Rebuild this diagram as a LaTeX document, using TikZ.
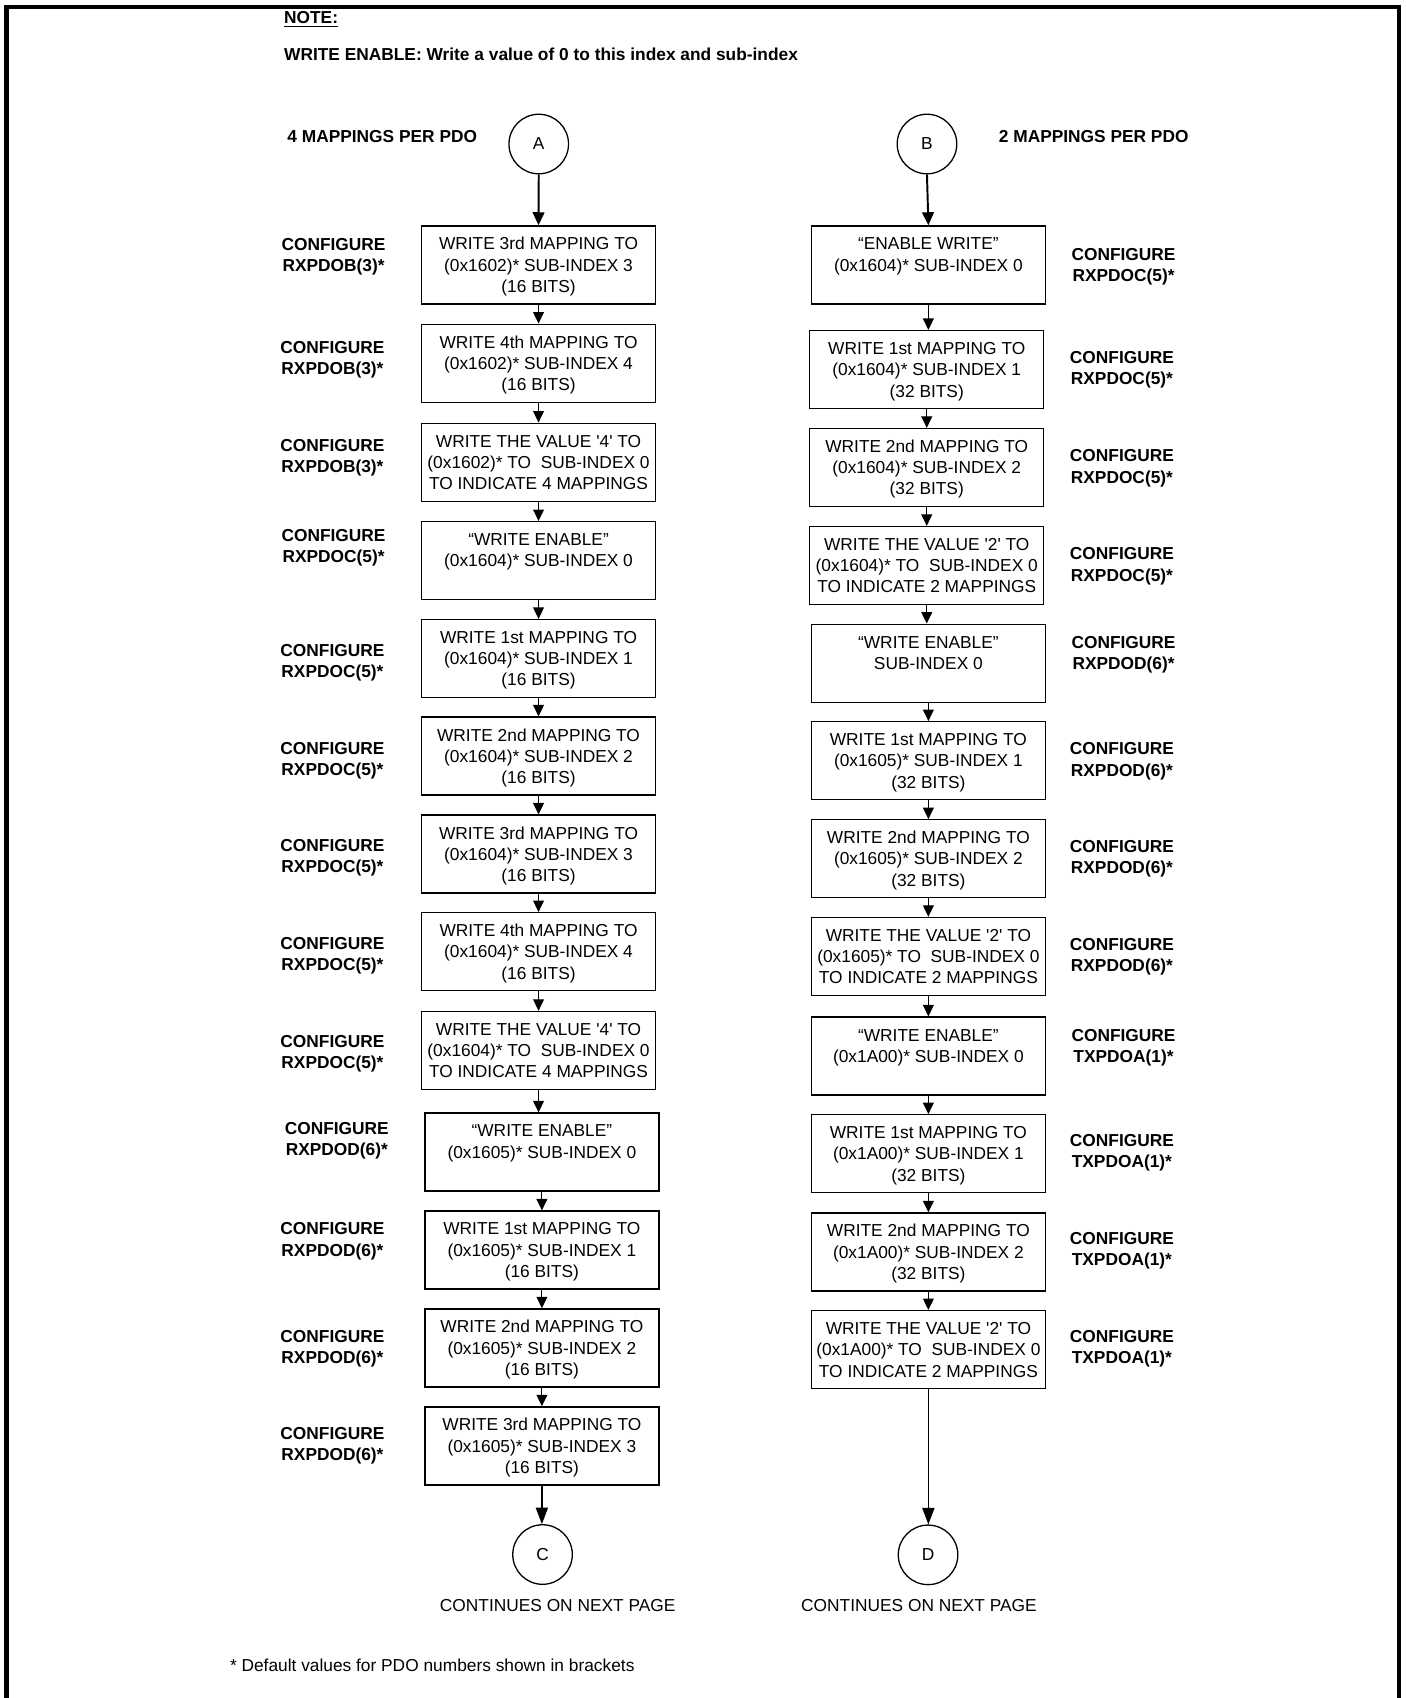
\documentclass[tikz,border=0pt]{standalone}
\usepackage{fontspec}
\setmainfont{Liberation Sans}
\usetikzlibrary{arrows.meta}
\newcommand\zs{\rule[-2.04pt]{0pt}{9.8pt}}
\newcommand\three[3]{\zs #1\\\zs #2\\\zs #3}
\newcommand\two[2]{\zs #1\\\zs #2}
\newcommand\qq{\textquotesingle}
\begin{document}
\begin{tikzpicture}[x=0.5pt,y=-0.5pt,
  box/.style={draw, line width=0.6pt, minimum width=108pt, minimum height=36pt, inner sep=0pt, align=center, font=\fontsize{8}{9.8}\selectfont},
  lab/.style={align=center, inner sep=0pt, font=\fontsize{8}{9.8}\selectfont\bfseries},
  conn/.style={draw, circle, line width=0.6pt, minimum size=27.5pt, inner sep=0pt, font=\fontsize{8}{9.8}\selectfont},
  arr/.style={line width=0.55pt, -{Triangle[length=5.3pt,width=5pt]}},
  arrbig/.style={line width=0.9pt, -{Triangle[length=6pt,width=5.4pt]}},
  arrlong/.style={line width=0.6pt, -{Triangle[length=7.6pt,width=5.6pt]}},
  txt/.style={inner sep=0pt, font=\fontsize{8}{9.8}\selectfont},
  btxt/.style={inner sep=0pt, font=\fontsize{8}{9.8}\selectfont\bfseries},
]
\useasboundingbox (0,0) rectangle (1298,1568);
% frame
\draw[line width=2.1pt, line join=miter] (6,1600) -- (6,6.5) -- (1292,6.5) -- (1292,1600);

% header texts
\node[btxt, anchor=base west] (note) at (262,21.7) {\underline{NOTE:}};
\node[btxt, anchor=base west] (notetxt) at (262,55.7) {WRITE ENABLE: Write a value of 0 to this index and sub-index};
\node[btxt, anchor=base west] (h4) at (265,132) {4 MAPPINGS PER PDO};
\node[btxt, anchor=base west] (h2) at (922,132) {2 MAPPINGS PER PDO};

% connectors
\node[conn] (A) at (497.5,133) {A};
\node[conn] (B) at (856,133) {B};
\node[conn] (C) at (501,1435.5) {C};
\node[conn] (D) at (857,1435.8) {D};

% left column
\node[box] (L1) at (497.3,244.6) {\three{WRITE 3rd MAPPING TO}{(0x1602)* SUB-INDEX 3}{(16 BITS)}};
\node[box] (L2) at (497.3,335.4) {\three{WRITE 4th MAPPING TO}{(0x1602)* SUB-INDEX 4}{(16 BITS)}};
\node[box] (L3) at (497.3,426.8) {\three{WRITE THE VALUE \qq4\qq{} TO}{(0x1602)* TO \ SUB-INDEX 0}{TO INDICATE 4 MAPPINGS}};
\node[box] (L4) at (497.3,517.7) {\three{“WRITE ENABLE”}{(0x1604)* SUB-INDEX 0}{}};
\node[box] (L5) at (497.3,608.1) {\three{WRITE 1st MAPPING TO}{(0x1604)* SUB-INDEX 1}{(16 BITS)}};
\node[box] (L6) at (497.3,698.2) {\three{WRITE 2nd MAPPING TO}{(0x1604)* SUB-INDEX 2}{(16 BITS)}};
\node[box] (L7) at (497.3,788.7) {\three{WRITE 3rd MAPPING TO}{(0x1604)* SUB-INDEX 3}{(16 BITS)}};
\node[box] (L8) at (497.3,878.8) {\three{WRITE 4th MAPPING TO}{(0x1604)* SUB-INDEX 4}{(16 BITS)}};
\node[box] (L9) at (497.3,970) {\three{WRITE THE VALUE \qq4\qq{} TO}{(0x1604)* TO \ SUB-INDEX 0}{TO INDICATE 4 MAPPINGS}};
\node[box] (L10) at (500.4,1063.8) {\three{“WRITE ENABLE”}{(0x1605)* SUB-INDEX 0}{}};
\node[box] (L11) at (500.4,1154.3) {\three{WRITE 1st MAPPING TO}{(0x1605)* SUB-INDEX 1}{(16 BITS)}};
\node[box] (L12) at (500.4,1244.7) {\three{WRITE 2nd MAPPING TO}{(0x1605)* SUB-INDEX 2}{(16 BITS)}};
\node[box] (L13) at (500.4,1335.2) {\three{WRITE 3rd MAPPING TO}{(0x1605)* SUB-INDEX 3}{(16 BITS)}};

% right column
\node[box] (R1) at (857.3,244.6) {\three{“ENABLE WRITE”}{(0x1604)* SUB-INDEX 0}{}};
\node[box] (R2) at (855.8,341.3) {\three{WRITE 1st MAPPING TO}{(0x1604)* SUB-INDEX 1}{(32 BITS)}};
\node[box] (R3) at (855.8,431.7) {\three{WRITE 2nd MAPPING TO}{(0x1604)* SUB-INDEX 2}{(32 BITS)}};
\node[box] (R4) at (855.8,522.2) {\three{WRITE THE VALUE \qq2\qq{} TO}{(0x1604)* TO \ SUB-INDEX 0}{TO INDICATE 2 MAPPINGS}};
\node[box] (R5) at (857.3,612.4) {\three{“WRITE ENABLE”}{SUB-INDEX 0}{}};
\node[box] (R6) at (857.3,702.5) {\three{WRITE 1st MAPPING TO}{(0x1605)* SUB-INDEX 1}{(32 BITS)}};
\node[box] (R7) at (857.3,793) {\three{WRITE 2nd MAPPING TO}{(0x1605)* SUB-INDEX 2}{(32 BITS)}};
\node[box] (R8) at (857.3,883.2) {\three{WRITE THE VALUE \qq2\qq{} TO}{(0x1605)* TO \ SUB-INDEX 0}{TO INDICATE 2 MAPPINGS}};
\node[box] (R9) at (857.3,975.2) {\three{“WRITE ENABLE”}{(0x1A00)* SUB-INDEX 0}{}};
\node[box] (R10) at (857.3,1065.4) {\three{WRITE 1st MAPPING TO}{(0x1A00)* SUB-INDEX 1}{(32 BITS)}};
\node[box] (R11) at (857.3,1156.1) {\three{WRITE 2nd MAPPING TO}{(0x1A00)* SUB-INDEX 2}{(32 BITS)}};
\node[box] (R12) at (857.3,1246.3) {\three{WRITE THE VALUE \qq2\qq{} TO}{(0x1A00)* TO \ SUB-INDEX 0}{TO INDICATE 2 MAPPINGS}};

% left labels
\node[lab] (lL1) at (308,235) {\two{CONFIGURE}{RXPDOB(3)*}};
\node[lab] (lL2) at (307,330.2) {\two{CONFIGURE}{RXPDOB(3)*}};
\node[lab] (lL3) at (307,421) {\two{CONFIGURE}{RXPDOB(3)*}};
\node[lab] (lL4) at (308,504) {\two{CONFIGURE}{RXPDOC(5)*}};
\node[lab] (lL5) at (307,610.5) {\two{CONFIGURE}{RXPDOC(5)*}};
\node[lab] (lL6) at (307,700.5) {\two{CONFIGURE}{RXPDOC(5)*}};
\node[lab] (lL7) at (307,790.5) {\two{CONFIGURE}{RXPDOC(5)*}};
\node[lab] (lL8) at (307,880.5) {\two{CONFIGURE}{RXPDOC(5)*}};
\node[lab] (lL9) at (307,971.5) {\two{CONFIGURE}{RXPDOC(5)*}};
\node[lab] (lL10) at (311,1051.8) {\two{CONFIGURE}{RXPDOD(6)*}};
\node[lab] (lL11) at (307,1144.4) {\two{CONFIGURE}{RXPDOD(6)*}};
\node[lab] (lL12) at (307,1244) {\two{CONFIGURE}{RXPDOD(6)*}};
\node[lab] (lL13) at (307,1333) {\two{CONFIGURE}{RXPDOD(6)*}};

% right labels
\node[lab] (lR1) at (1037.5,244.2) {\two{CONFIGURE}{RXPDOC(5)*}};
\node[lab] (lR2) at (1036,340) {\two{CONFIGURE}{RXPDOC(5)*}};
\node[lab] (lR3) at (1036,430.5) {\two{CONFIGURE}{RXPDOC(5)*}};
\node[lab] (lR4) at (1036,521) {\two{CONFIGURE}{RXPDOC(5)*}};
\node[lab] (lR5) at (1037.5,602.7) {\two{CONFIGURE}{RXPDOD(6)*}};
\node[lab] (lR6) at (1036,701.2) {\two{CONFIGURE}{RXPDOD(6)*}};
\node[lab] (lR7) at (1036,791.3) {\two{CONFIGURE}{RXPDOD(6)*}};
\node[lab] (lR8) at (1036,882) {\two{CONFIGURE}{RXPDOD(6)*}};
\node[lab] (lR9) at (1037.5,966) {\two{CONFIGURE}{TXPDOA(1)*}};
\node[lab] (lR10) at (1036,1062.8) {\two{CONFIGURE}{TXPDOA(1)*}};
\node[lab] (lR11) at (1036,1153.5) {\two{CONFIGURE}{TXPDOA(1)*}};
\node[lab] (lR12) at (1036,1244) {\two{CONFIGURE}{TXPDOA(1)*}};

% bottom texts
\node[txt, anchor=base] (contL) at (515,1488) {CONTINUES ON NEXT PAGE};
\node[txt, anchor=base] (contR) at (848.6,1488) {CONTINUES ON NEXT PAGE};
\node[txt, anchor=base west] (foot) at (212,1543.5) {* Default values for PDO numbers shown in brackets};

% arrows left
\draw[arrbig] (A.south) -- (L1.north);
\foreach \a/\b in {L1/L2,L2/L3,L3/L4,L4/L5,L5/L6,L6/L7,L7/L8,L8/L9,L10/L11,L11/L12,L12/L13}
  \draw[arr] (\a.south) -- (\b.north);
\draw[arr] (L9.south) -- (L9.south |- L10.north);
\draw[arrlong] (L13.south) -- (L13.south |- C.north);
% arrows right
\draw[arrbig] (B.south) -- (R1.north);
\foreach \a/\b in {R1/R2,R2/R3,R3/R4,R4/R5,R5/R6,R6/R7,R7/R8,R8/R9,R9/R10,R10/R11,R11/R12}
  \draw[arr] (\a.south) -- (\a.south |- \b.north);
\draw[arrlong] (R12.south) -- (R12.south |- D.north);
\end{tikzpicture}
\end{document}
